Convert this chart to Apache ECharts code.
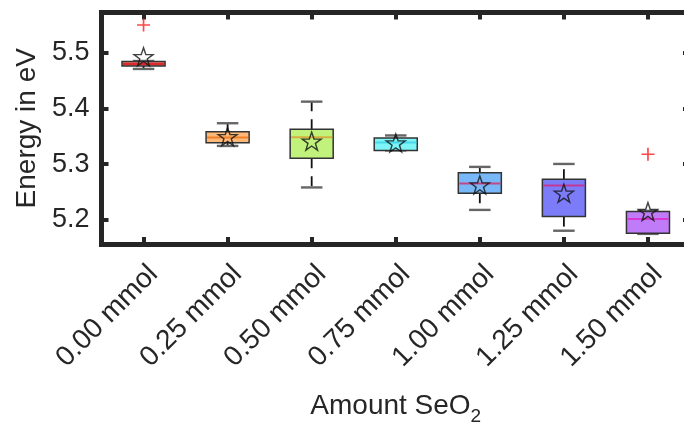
<!DOCTYPE html>
<html>
<head>
<meta charset="utf-8">
<script src="https://cdn.jsdelivr.net/npm/echarts@6/dist/echarts.min.js"></script>
<style>
  html, body { margin: 0; padding: 0; background: #fff; }
  #chart { width: 684px; height: 426px; }
</style>
</head>
<body>
<div id="chart"></div>
<script>
// Work function per SeO2 amount: box statistics (eV)
const categories = ['0.00 mmol', '0.25 mmol', '0.50 mmol', '0.75 mmol', '1.00 mmol', '1.25 mmol', '1.50 mmol'];
const lowerWhisker = [5.4708, 5.3328, 5.2584, 5.3247, 5.2181, 5.1808, 5.1751];
const q1Values     = [5.4762, 5.3387, 5.3108, 5.3247, 5.2480, 5.2061, 5.1763];
const medians      = [5.4797, 5.3477, 5.3484, 5.3391, 5.2656, 5.2620, 5.2020];
const q3Values     = [5.4842, 5.3584, 5.3627, 5.3471, 5.2849, 5.2731, 5.2151];
const upperWhisker = [5.4851, 5.3735, 5.4122, 5.3516, 5.2952, 5.3005, 5.2163];
const means        = [5.4928, 5.3495, 5.3414, 5.3382, 5.2629, 5.2480, 5.2151];
// outliers as [category index, value]
const outliers = [[0, 5.5496], [6, 5.3179]];
const yTicks = [5.2, 5.3, 5.4, 5.5];

const boxFill   = ['#f07070', '#ffb878', '#c0f27c', '#7cf4f8', '#78b8f8', '#7c7cf8', '#c07cf8'];
const medianCol = ['#e02828', '#f08028', '#d4b040', '#48d8e8', '#c04888', '#c03898', '#d838d0'];

const ink = '#262626';
const FONT = 'Liberation Sans, Arial, Helvetica, sans-serif';

const boxData = categories.map((c, i) =>
  [i, lowerWhisker[i], q1Values[i], medians[i], q3Values[i], upperWhisker[i]]);
const meanData = means.map((m, i) => [i, m]);

const STAR = 'path://M50,0 L61.8,35.1 L98.1,35.1 L68.8,56.7 L79.4,91 L50,70 L20.6,91 L31.2,56.7 L1.9,35.1 L38.2,35.1 Z';
const PLUS = 'path://M0,4.35h10v1.3h-10zM4.35,0h1.3v10h-1.3z';

function renderBox(params, api) {
  const i = api.value(0);
  const band = api.size([1, 0])[0];
  const hw = band * 0.256;
  const cw = hw * 0.5;
  const cx = api.coord([i, 0])[0];
  const yLo = api.coord([i, api.value(1)])[1];
  const yQ1 = api.coord([i, api.value(2)])[1];
  const yMd = api.coord([i, api.value(3)])[1];
  const yQ3 = api.coord([i, api.value(4)])[1];
  const yHi = api.coord([i, api.value(5)])[1];
  const k = params.dataIndex;
  const children = [];
  // whiskers (dashed) and caps
  if (yHi < yQ3 - 0.5) {
    children.push({ type: 'line', shape: { x1: cx, y1: yQ3, x2: cx, y2: yHi },
      style: { stroke: '#111', lineWidth: 1.8, lineDash: [10, 8] } });
  }
  if (yLo > yQ1 + 0.5) {
    children.push({ type: 'line', shape: { x1: cx, y1: yQ1, x2: cx, y2: yLo },
      style: { stroke: '#111', lineWidth: 1.8, lineDash: [10, 8] } });
  }
  children.push({ type: 'line', shape: { x1: cx - cw, y1: yHi, x2: cx + cw, y2: yHi },
    style: { stroke: '#666', lineWidth: 2.4 } });
  children.push({ type: 'line', shape: { x1: cx - cw, y1: yLo, x2: cx + cw, y2: yLo },
    style: { stroke: '#666', lineWidth: 2.4 } });
  // box
  children.push({ type: 'rect', shape: { x: cx - hw, y: yQ3, width: 2 * hw, height: yQ1 - yQ3 },
    style: { fill: boxFill[k], stroke: '#333', lineWidth: 1.5 } });
  // median
  children.push({ type: 'line', shape: { x1: cx - hw + 1, y1: yMd, x2: cx + hw - 1, y2: yMd },
    style: { stroke: medianCol[k], lineWidth: 2 } });
  return { type: 'group', children };
}

const axisLineStyle = { color: ink, width: 5, cap: 'square' };
const tickStyle = { color: ink, width: 4 };

const chart = echarts.init(document.getElementById('chart'), null, { renderer: 'canvas' });
chart.setOption({
  animation: false,
  backgroundColor: '#fff',
  grid: { left: 101.5, top: 12.5, width: 588.5, height: 231.5, outerBoundsMode: 'none', containLabel: false },
  xAxis: [
    {
      type: 'category', data: categories, position: 'bottom',
      axisLine: { show: true, lineStyle: axisLineStyle },
      axisTick: { show: true, inside: true, alignWithLabel: true, length: 7, lineStyle: tickStyle },
      axisLabel: { rotate: 45, margin: 16, fontSize: 28, color: ink, fontFamily: FONT, interval: 0,
        verticalAlign: 'top' },
      name: '{b|Amount SeO}{s|2}', nameLocation: 'middle', nameGap: 142,
      nameTextStyle: {
        color: ink, fontFamily: FONT,
        rich: {
          b: { fontSize: 28, lineHeight: 40, verticalAlign: 'middle', color: ink, fontFamily: FONT },
          s: { fontSize: 19, lineHeight: 18, verticalAlign: 'bottom', color: ink, fontFamily: FONT }
        }
      },
      splitLine: { show: false }
    },
    {
      type: 'category', data: categories, position: 'top',
      axisLine: { show: true, lineStyle: axisLineStyle },
      axisTick: { show: true, inside: true, alignWithLabel: true, length: 7, lineStyle: tickStyle },
      axisLabel: { show: false },
      splitLine: { show: false }
    }
  ],
  yAxis: [
    {
      type: 'value', min: 5.157, max: 5.572, position: 'left',
      axisLine: { show: true, lineStyle: axisLineStyle },
      axisTick: { show: true, inside: true, length: 7, lineStyle: tickStyle, customValues: yTicks },
      axisLabel: { fontSize: 27, color: ink, fontFamily: FONT, margin: 12, customValues: yTicks,
        formatter: v => v.toFixed(1) },
      splitLine: { show: false },
      name: 'Energy in eV', nameLocation: 'middle', nameGap: 60, nameRotate: 90,
      nameTextStyle: { fontSize: 28, color: ink, fontFamily: FONT }
    },
    {
      type: 'value', min: 5.157, max: 5.572, position: 'right',
      axisLine: { show: true, lineStyle: axisLineStyle },
      axisTick: { show: true, inside: true, length: 7, lineStyle: tickStyle, customValues: yTicks },
      axisLabel: { show: false },
      splitLine: { show: false }
    }
  ],
  series: [
    {
      type: 'custom', xAxisIndex: 0, yAxisIndex: 0,
      renderItem: renderBox,
      encode: { x: 0, y: [1, 2, 3, 4, 5] },
      data: boxData, z: 2
    },
    {
      type: 'scatter', xAxisIndex: 0, yAxisIndex: 0,
      symbol: STAR, symbolSize: [19, 18],
      itemStyle: { color: 'rgba(255,255,255,0)', borderColor: '#111', borderWidth: 1.4 },
      data: meanData, z: 3
    },
    {
      type: 'scatter', xAxisIndex: 0, yAxisIndex: 0,
      symbol: PLUS, symbolSize: 13,
      itemStyle: { color: '#ff1a1a' },
      data: outliers, z: 3
    }
  ]
});
</script>
</body>
</html>
